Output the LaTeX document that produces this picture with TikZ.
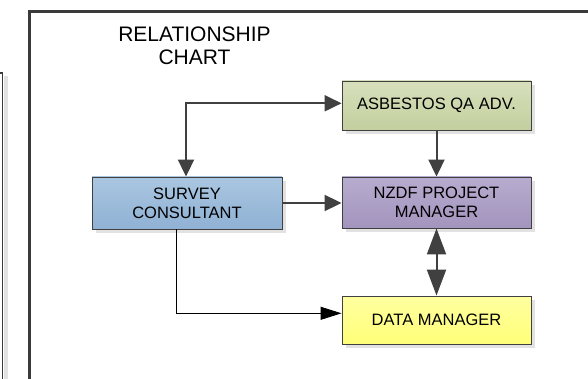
\documentclass[tikz,border=0pt]{standalone}
\usepackage{fontspec}
\setmainfont{Liberation Sans}
\usetikzlibrary{arrows.meta,shadows}
\definecolor{edgegray}{HTML}{404040}
\definecolor{framegray}{HTML}{3A3A3A}
\definecolor{shadowgray}{HTML}{E2E2E2}
\tikzset{
  box/.style={draw=edgegray, line width=0.9pt, minimum width=189pt, inner sep=0pt,
    align=center, font=\fontsize{16.5pt}{19.3pt}\selectfont,
    drop shadow={shadow xshift=4pt, shadow yshift=-4pt, fill=shadowgray, opacity=1}},
  heavy/.style={draw=edgegray, line width=2pt,
    -{Triangle[length=17pt,width=16pt]}},
  heavyboth/.style={draw=edgegray, line width=2pt,
    {Triangle[length=26pt,width=19pt]}-{Triangle[length=26pt,width=19pt]}},
  light/.style={draw=black, line width=0.9pt,
    -{Triangle[length=21pt,width=13pt]}},
  titletext/.style={font=\fontsize{21pt}{23.5pt}\selectfont, anchor=base, inner sep=0pt}
}
\begin{document}
\begin{tikzpicture}[x=1pt,y=-1pt]
\useasboundingbox (0,0) rectangle (588,379);
\fill[white] (0,0) rectangle (588,379);

% neighbouring page panel cut off at the left edge
\fill[shadowgray] (3.5,76) rectangle (7.5,379);
\draw[framegray, line width=1.3pt] (-2,73) -- (2.5,73) -- (2.5,380);

% chart frame
\draw[framegray, line width=2.6pt] (29.5,381) -- (29.5,11.5) -- (590,11.5);

% title
\node[titletext] (title1) at (194.5,41.7) {RELATIONSHIP};
\node[titletext] (title2) at (194.5,65) {CHART};

% boxes
\node[box, minimum height=49pt, top color={rgb,255:red,215;green,224;blue,188},
      bottom color={rgb,255:red,195;green,207;blue,158}]
  (asb) at (436.5,105.5) {ASBESTOS QA ADV.};
\node[box, minimum height=51pt, top color={rgb,255:red,183;green,172;blue,207},
      bottom color={rgb,255:red,163;green,148;blue,189}]
  (nzdf) at (436.5,202.5) {NZDF PROJECT\\MANAGER};
\node[box, minimum width=190pt, minimum height=52pt, top color={rgb,255:red,170;green,198;blue,225},
      bottom color={rgb,255:red,143;green,177;blue,212}]
  (survey) at (187,203) {SURVEY\\CONSULTANT};
\node[box, minimum height=48pt, top color={rgb,255:red,255;green,255;blue,160},
      bottom color={rgb,255:red,255;green,255;blue,120}]
  (data) at (436.5,320) {DATA MANAGER};

% routing points
\coordinate (loop) at (186,103.3);
\coordinate (low) at (176,313.3);

% connectors
\draw[heavy, {Triangle[length=17pt,width=16pt]}-{Triangle[length=17pt,width=16pt]}]
  (survey.north -| loop) |- (loop -| asb.west);
\draw[heavy] (asb.south) -- (nzdf.north);
\draw[heavy] (survey.east) -- (survey.east -| nzdf.west);
\draw[heavyboth] (nzdf.south) -- (data.north);
\draw[light] (survey.south -| low) |- (low -| data.west);
\end{tikzpicture}
\end{document}
